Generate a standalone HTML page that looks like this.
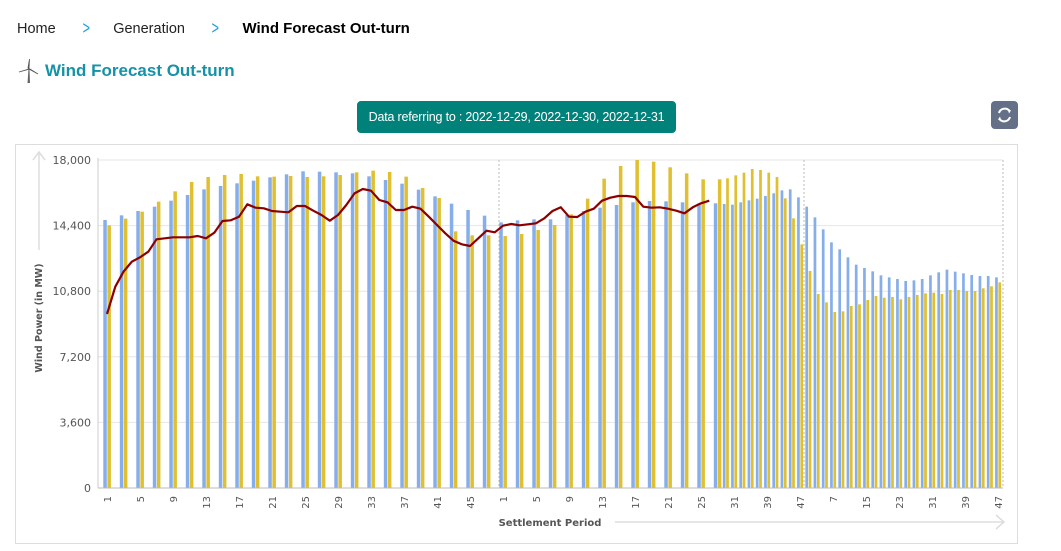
<!DOCTYPE html>
<html><head><meta charset="utf-8">
<style>
body{margin:0;width:1061px;height:551px;background:#fff;font-family:"Liberation Sans",sans-serif;overflow:hidden;position:relative}
.bc{position:absolute;top:18px;left:17px;font-size:14.5px;color:#222;display:flex;align-items:center}
.bc span{display:inline-block}
.sep{color:#1a9fd6;font-size:18px;margin:0 22px 0 25px;transform:scaleX(0.7)}
.title{position:absolute;top:61px;left:45px;font-size:17px;font-weight:bold;color:#1592a8}
.dbtn{position:absolute;left:357px;top:101px;width:319px;height:32px;background:#00827a;border-radius:4px;color:#fff;font-size:12.5px;line-height:32px;text-align:center;letter-spacing:-0.2px}
.rbtn{position:absolute;left:991px;top:101px;width:27px;height:28px;background:#647087;border-radius:4px}
.box{position:absolute;left:15px;top:144px;width:1001px;height:398px;border:1px solid #ddd}
</style></head><body>
<div class="bc">
<span>Home</span><span class="sep">&gt;</span>
<span>Generation</span><span class="sep">&gt;</span>
<span style="font-weight:bold;color:#000;font-size:15px">Wind Forecast Out-turn</span>
</div>
<svg style="position:absolute;left:18px;top:58px" width="22" height="26" viewBox="0 0 22 26">
<path d="M10.5 11 L11.5 11 L12 25 L9.5 25 Z" fill="#666"/><path d="M11 11 L11.5 1 L10 10 Z M11 11 L20 16 L12 11 Z M11 11 L1 14 L10 11.5 Z" fill="#555" stroke="#555" stroke-width="0.8"/></svg>
<div class="title">Wind Forecast Out-turn</div>
<div class="dbtn">Data referring to : 2022-12-29, 2022-12-30, 2022-12-31</div>
<div class="rbtn">
<svg width="27" height="28" viewBox="0 0 27 28"><path d="M8 12 A6 6 0 0 1 18.5 10" stroke="#fff" stroke-width="2" fill="none"/><path d="M19 16 A6 6 0 0 1 8.5 18" stroke="#fff" stroke-width="2" fill="none"/><path d="M16.5 7.5 L20 9.5 L18 12.5 Z M10.5 20.5 L7 18.5 L9 15.5 Z" fill="#fff"/></svg></div>
<div class="box"></div>
<svg id="chart" style="position:absolute;left:0;top:0" width="1061" height="551"></svg>
<script>
const d1Blue=[14707,14964,15201,15439,15768,16079,16390,16573,16720,16866,17049,17214,17378,17360,17323,17268,17104,16903,16701,16372,16006,15604,15256,14945];
const d1Yellow=[14415,14781,15165,15714,16281,16793,17067,17177,17232,17104,17086,17122,17067,17104,17177,17323,17415,17342,17086,16464,15915,14086,13866,13866];
const d2Blue=[14579,14689,14744,14744,14982,15201,15384,15531,15677,15750,15732,15677,15622,15622,15586,15549,15677,15787,15878,16025,16171,16335,16390,15951];
const d2Yellow=[13829,13939,14159,14433,15018,15878,16976,17671,18000,17909,17598,17268,16939,16939,16994,17159,17305,17506,17451,17305,17067,15896,14799,13372];
const d3Blue=[15439,14854,14195,13482,13098,12659,12256,12073,11890,11670,11561,11470,11360,11396,11470,11670,11835,11982,11872,11780,11689,11634,11634,11561];
const d3Yellow=[11909,10646,10189,9659,9695,9988,10079,10317,10537,10445,10482,10354,10482,10592,10683,10720,10646,10866,10866,10811,10811,10958,11068,11287];
const lineVals=[9549,11049,11872,12421,12659,12970,13646,13701,13756,13756,13756,13829,13701,14012,14653,14689,14890,15567,15384,15348,15201,15165,15128,15476,15476,15220,14982,14671,14982,15531,16168,16409,16317,15805,15677,15256,15256,15439,15329,14890,14433,13976,13573,13372,13281,13701,14122,14031,14396,14488,14415,14470,14524,14799,15201,15402,14890,14872,15165,15329,15768,15933,16025,16025,15970,15439,15384,15402,15329,15220,15073,15402,15622,15768];
const periods=[1,3,5,7,9,11,13,15,17,19,21,23,25,27,29,31,33,35,37,39,41,43,45,47];
const yTicks=[0,3600,7200,10800,14400,18000];
const labelIdx=[0,2,4,6,8,10,12,14,16,18,20,22,24,26,28,30,32,34,36,39,43,47,51,55,59,63,67,71];

const blue=d1Blue.concat(d2Blue,d3Blue), yellow=d1Yellow.concat(d2Yellow,d3Yellow);
const cats=[];for(let d=0;d<3;d++)for(const p of periods)cats.push(p);
const svg=document.getElementById('chart'),NS='http://www.w3.org/2000/svg';
const X0=98,X1=1003,Y0=488,Y1=160,YMAX=18000;
function y(v){return Y0-(v/YMAX)*(Y0-Y1);}
function x(i){return 107+Math.min(i,37)*16.5+Math.max(0,i-37)*8.25;}
function mk(t,a){const e=document.createElementNS(NS,t);for(const k in a)e.setAttribute(k,a[k]);svg.appendChild(e);return e;}
yTicks.forEach((t,k)=>{
 if(t>0){const g=mk('line',{x1:X0,x2:X1,y1:y(t),y2:y(t),stroke:'#e6e6e6'});
 
 }
 const tx=mk('text',{x:91,y:y(t)+4,'text-anchor':'end','font-size':'11','fill':'#555','font-family':'DejaVu Sans, sans-serif'});
 tx.textContent=t.toLocaleString('en-US');
 
 
});
[499,804,1003].forEach(px=>{const l=mk('line',{x1:px,x2:px,y1:160,y2:488,stroke:'#bbb','stroke-dasharray':'2,2'});
 
 });
mk('line',{x1:X0,x2:X0,y1:158,y2:Y0,stroke:'#ccc'});
blue.forEach((v,i)=>{
 const w=i<38?3.5:2.7;
 const b=mk('rect',{x:x(i)-w-0.2,y:y(v),width:w,height:Y0-y(v),fill:'#86aeea'});
 
 
 const c=mk('rect',{x:x(i)+0.4,y:y(yellow[i]),width:w,height:Y0-y(yellow[i]),fill:'#e0bf30'});
 
 
});
mk('line',{x1:X0,x2:X1,y1:Y0,y2:Y0,stroke:'#bbb'});
const pts=lineVals.map((v,j)=>x(j/2).toFixed(1)+','+y(v).toFixed(1)).join(' ');
const pl=mk('polyline',{points:pts,fill:'none',stroke:'#8b0000','stroke-width':2.2,'stroke-linejoin':'round'});


labelIdx.forEach(i=>{const px=x(i);
 const t=mk('text',{x:0,y:0,transform:`translate(${px+4},${496}) rotate(-90)`,'text-anchor':'end','font-size':'10','fill':'#555','font-family':'DejaVu Sans, sans-serif'});
 t.textContent=cats[i];
 
 });
const xt=mk('text',{x:550,y:526,'text-anchor':'middle','font-size':'10','font-weight':'bold','fill':'#555','font-family':'DejaVu Sans, sans-serif'});
xt.textContent='Settlement Period';


mk('line',{x1:615,x2:1004,y1:522,y2:522,stroke:'#ddd','stroke-width':1.5});
mk('polyline',{points:'996,515 1004,522 996,529',fill:'none',stroke:'#ddd','stroke-width':1.5});
const yt=mk('text',{x:0,y:0,transform:'translate(42,318) rotate(-90)','text-anchor':'middle','font-size':'9.5','font-weight':'bold','fill':'#555','font-family':'DejaVu Sans, sans-serif'});
yt.textContent='Wind Power (in MW)';


mk('line',{x1:39,x2:39,y1:152,y2:250,stroke:'#ddd','stroke-width':1.5});
mk('polyline',{points:'33,160 39,152 45,160',fill:'none',stroke:'#ddd','stroke-width':1.5});
</script>
</body></html>
